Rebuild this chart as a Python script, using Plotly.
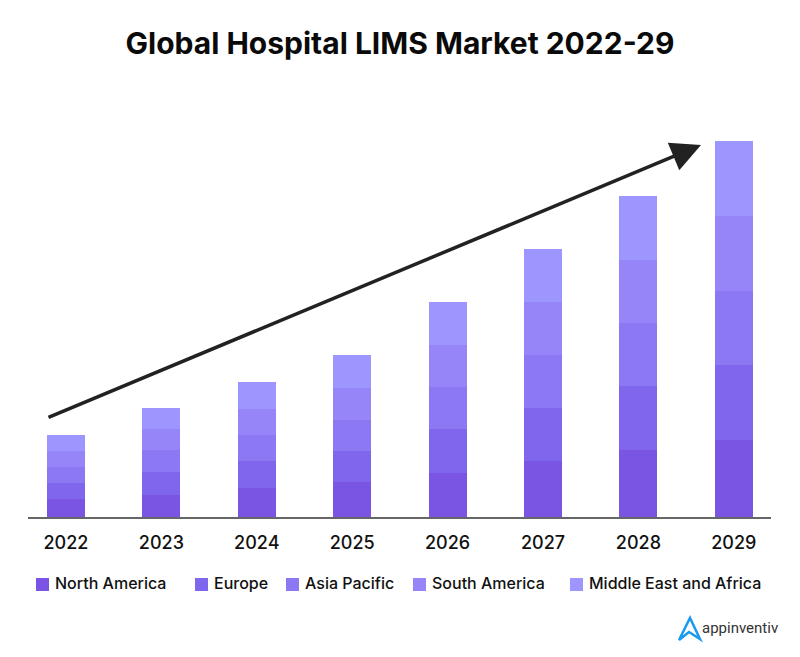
# plot.py
import plotly.graph_objects as go

W, H = 800, 657


def px(x, y):
    """Converte pixels da imagem em coordenadas de papel."""
    return x / W, 1 - y / H


def generate_market_chart(output_path: str):
    """
    Gera o gráfico HTML do mercado global de Hospital LIMS.
    """
    years = ['2022', '2023', '2024', '2025', '2026', '2027', '2028', '2029']
    regions = {
        'North America': ([18, 22, 29, 35, 44, 56, 67, 77], '#7a55e3'),
        'Europe': ([16, 23, 27, 31, 44, 53, 64, 75], '#8066ec'),
        'Asia Pacific': ([16, 22, 26, 31, 42, 53, 63, 74], '#8b78f2'),
        'South America': ([16, 21, 26, 32, 42, 53, 63, 75], '#9585f8'),
        'Middle East and Africa': ([16, 21, 27, 33, 43, 53, 64, 75], '#9d96fe'),
    }
    legend_x = [36, 195, 286, 413, 570]  # posição de cada quadrado

    # Cria o gráfico
    fig = go.Figure()
    for name, (values, color) in regions.items():
        fig.add_trace(go.Bar(x=years, y=values, name=name, marker=dict(color=color, line=dict(width=0))))

    # Legenda feita à mão, o espaçamento do original é irregular
    for (name, (values, color)), x in zip(regions.items(), legend_x):
        x0, y0 = px(x, 578)
        x1, y1 = px(x + 13, 591)
        fig.add_shape(type='rect', xref='paper', yref='paper', x0=x0, y0=y0, x1=x1, y1=y1,
                      fillcolor=color, line=dict(width=0))
        tx, ty = px(x + 17, 583)
        fig.add_annotation(xref='paper', yref='paper', x=tx, y=ty, text=name, showarrow=False,
                           xanchor='left', yanchor='middle',
                           font=dict(family='Inter', size=16, color='#111111', weight=500))

    # Seta de tendência
    tip_x, tip_y = px(701, 145)
    fig.add_annotation(xref='paper', yref='paper', x=tip_x, y=tip_y, text='', showarrow=True,
                       axref='pixel', ayref='pixel', ax=47 - 701, ay=418 - 145,
                       arrowhead=2, arrowsize=1.7, arrowwidth=3.5, arrowcolor='#222222')

    # Logotipo
    a = [px(*p) for p in [(679, 640), (690, 618), (700, 639), (689, 632)]]
    path = 'M' + ' L'.join(f'{x:.4f},{y:.4f}' for x, y in a) + ' Z'
    fig.add_shape(type='path', xref='paper', yref='paper', path=path, line=dict(color='#1a9bef', width=2.5))
    lx, ly = px(700, 628)
    fig.add_annotation(xref='paper', yref='paper', x=lx, y=ly, text='appinventiv', showarrow=False,
                       xanchor='left', yanchor='middle',
                       font=dict(family='Roboto', size=15, color='#333333'))

    fig.update_layout(
        title=dict(text='Global Hospital LIMS Market 2022-29', x=0.5, xanchor='center', y=1 - 43 / H, yanchor='middle',
                   font=dict(family='Inter', size=30, color='#0a0a0a', weight=700)),
        barmode='stack',
        bargap=0.6,
        showlegend=False,
        width=W,
        height=H,
        margin=dict(l=0, r=0, t=0, b=0),
        paper_bgcolor='white',
        plot_bgcolor='white',
        xaxis=dict(domain=[28 / W, 771 / W], range=[-0.398, 7.39], type='category', showgrid=False,
                   showline=True, linecolor='#666666', linewidth=1.5, ticks='outside', ticklen=9,
                   tickcolor='rgba(0,0,0,0)', tickfont=dict(family='Inter', size=18, color='#111111', weight=500)),
        yaxis=dict(domain=[1 - 517 / H, 1], range=[0, 517], visible=False),
    )

    fig.write_html(output_path, config={'displayModeBar': False}, post_script="document.body.style.margin = '0';")


generate_market_chart('out.html')
